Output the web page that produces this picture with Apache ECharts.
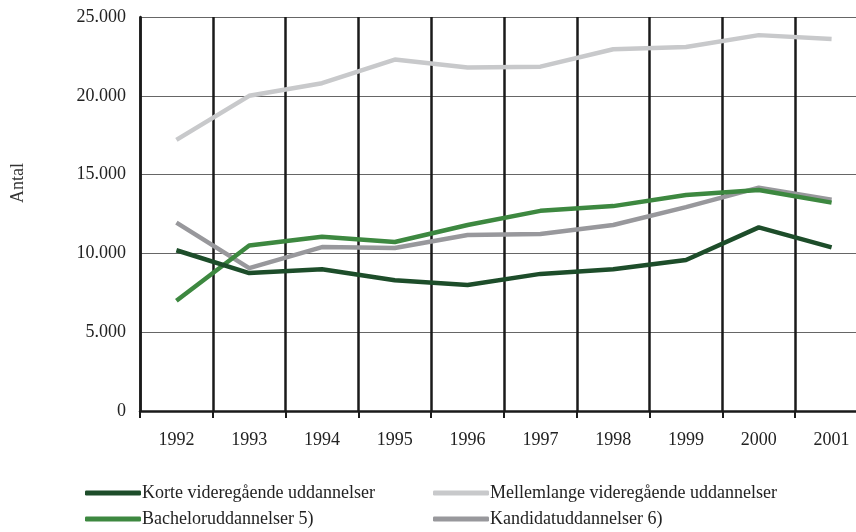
<!DOCTYPE html>
<html>
<head>
<meta charset="utf-8">
<script src="https://cdn.jsdelivr.net/npm/echarts@6/dist/echarts.min.js"></script>
<style>
  html, body { margin: 0; padding: 0; background: #fff; }
  #chart { width: 856px; height: 532px; }
</style>
</head>
<body>
<div id="chart"></div>
<script>
const years = ['1992', '1993', '1994', '1995', '1996', '1997', '1998', '1999', '2000', '2001']
const korte = [10200, 8750, 9000, 8300, 8000, 8700, 9000, 9580, 11650, 10380]
const mellemlange = [17200, 20000, 20800, 22300, 21800, 21850, 22950, 23100, 23850, 23600]
const bachelor = [7000, 10500, 11050, 10720, 11800, 12700, 13000, 13700, 14020, 13220]
const kandidat = [11950, 9070, 10400, 10340, 11170, 11230, 11800, 12940, 14170, 13400]

const names = ['Korte videregående uddannelser', 'Mellemlange videregående uddannelser', 'Bacheloruddannelser 5)', 'Kandidatuddannelser 6)']
const colors = ['#1d4d2a', '#c8c9cb', '#3d8840', '#98989c']

const font = '"Liberation Serif", "DejaVu Serif", serif'
let chart = echarts.init(document.getElementById('chart'))

function line (i, data) {
  return {
    name: names[i],
    type: 'line',
    data: data,
    symbol: 'none',
    lineStyle: { width: 4.5, color: colors[i] },
    itemStyle: { color: colors[i] },
    z: i === 1 ? 3 : 4
  }
}

const legendCommon = {
  orient: 'vertical',
  bottom: 4,
  padding: 0,
  itemWidth: 56,
  itemHeight: 5,
  itemGap: 8,
  icon: 'roundRect',
  textStyle: { fontFamily: font, fontSize: 18, color: '#222', padding: [0, 0, 0, -4] }
}

chart.setOption({
  animation: false,
  backgroundColor: '#fff',
  color: colors,
  grid: { left: 140, top: 17, width: 728, bottom: 121, outerBoundsMode: 'none' },
  graphic: [{
    type: 'text',
    left: 9,
    top: 163,
    rotation: Math.PI / 2,
    style: { text: 'Antal', font: '18px ' + font, fill: '#333' }
  }],
  legend: [
    Object.assign({}, legendCommon, { left: 85, data: [names[0], names[2]] }),
    Object.assign({}, legendCommon, { left: 433, data: [names[1], names[3]] })
  ],
  xAxis: {
    type: 'category',
    data: years,
    boundaryGap: true,
    axisLine: { lineStyle: { color: '#1a1a1a', width: 2.5 } },
    axisTick: { show: true, length: 7, lineStyle: { color: '#1a1a1a', width: 2 } },
    axisLabel: { fontFamily: font, fontSize: 18, color: '#222', margin: 20 },
    splitLine: { show: true, lineStyle: { color: '#1a1a1a', width: 2.5 } }
  },
  yAxis: {
    type: 'value',
    min: 0,
    max: 25000,
    interval: 5000,
    axisLine: { show: true, lineStyle: { color: '#1a1a1a', width: 2.5 } },
    axisTick: { show: false },
    axisLabel: {
      fontFamily: font,
      fontSize: 18,
      color: '#222',
      margin: 14,
      formatter: v => v === 0 ? '0' : String(v).replace(/(\d)(?=(\d{3})+$)/g, '$1.')
    },
    splitLine: { show: true, lineStyle: { color: '#666', width: 1.2 } }
  },
  series: [
    line(1, mellemlange),
    line(3, kandidat),
    line(2, bachelor),
    line(0, korte)
  ]
})
</script>
</body>
</html>
